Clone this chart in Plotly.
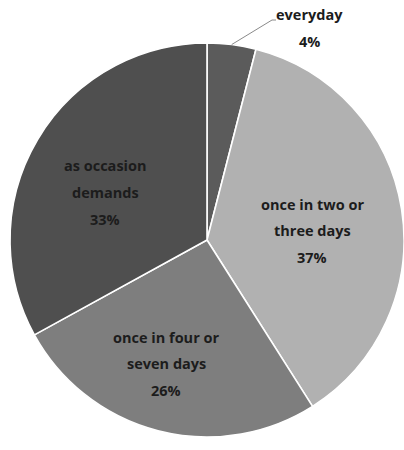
import math
import plotly.graph_objects as go

# Survey shares, clockwise from 12 o'clock
labels = ["everyday", "once in two or three days", "once in four or seven days", "as occasion demands"]
shares = [4, 37, 26, 33]
label_lines = [["everyday"], ["once in two or", "three days"], ["once in four or", "seven days"], ["as occasion", "demands"]]
colors = ["#5b5b5b", "#b1b1b1", "#7e7e7e", "#4f4f4f"]

W, H = 404, 450
# pie domain in pixels
x0, x1 = 10, 404
y0, y1 = 41, 439
cx, cy = (x0 + x1) / 2, (y0 + y1) / 2
R = min(x1 - x0, y1 - y0) / 2

fig = go.Figure(go.Pie(
    labels=labels,
    values=shares,
    sort=False,
    direction="clockwise",
    rotation=0,
    marker=dict(colors=colors, line=dict(color="white", width=1.6)),
    textinfo="none",
    hoverinfo="label+percent",
    domain=dict(x=[x0 / W, x1 / W], y=[1 - y1 / H, 1 - y0 / H]),
))

# label block centres (pixels) for each slice
label_pos = [(309, 15), (312, 204), (166, 337), (105, 166)]
line_gap = 26.5

annotations = []
total = sum(shares)
for lines, val, (px, py) in zip(label_lines, shares, label_pos):
    texts = lines + [f"{round(100 * val / total)}%"]
    for k, t in enumerate(texts):
        annotations.append(dict(
            x=px / W, y=1 - (py + k * line_gap) / H, xref="paper", yref="paper",
            text=t, showarrow=False, xanchor="center", yanchor="middle",
            font=dict(family="Open Sans", size=14.5, color="#1c1c1c", weight="bold"),
        ))

# leader line for the small first slice: from rim midpoint to its label
mid = math.radians(360 * shares[0] / total / 2)
sx, sy = cx + R * math.sin(mid), cy - R * math.cos(mid)
ex, ey = 272, 20
leader = dict(
    type="path", xref="paper", yref="paper",
    path=f"M {sx / W},{1 - sy / H} L {ex / W},{1 - ey / H} L {(ex + 4) / W},{1 - ey / H}",
    line=dict(color="#8a8a8a", width=1),
)

fig.update_layout(
    width=W, height=H,
    margin=dict(l=0, r=0, t=0, b=0),
    paper_bgcolor="white",
    showlegend=False,
    annotations=annotations,
    shapes=[leader],
)

fig.write_html("out.html")
